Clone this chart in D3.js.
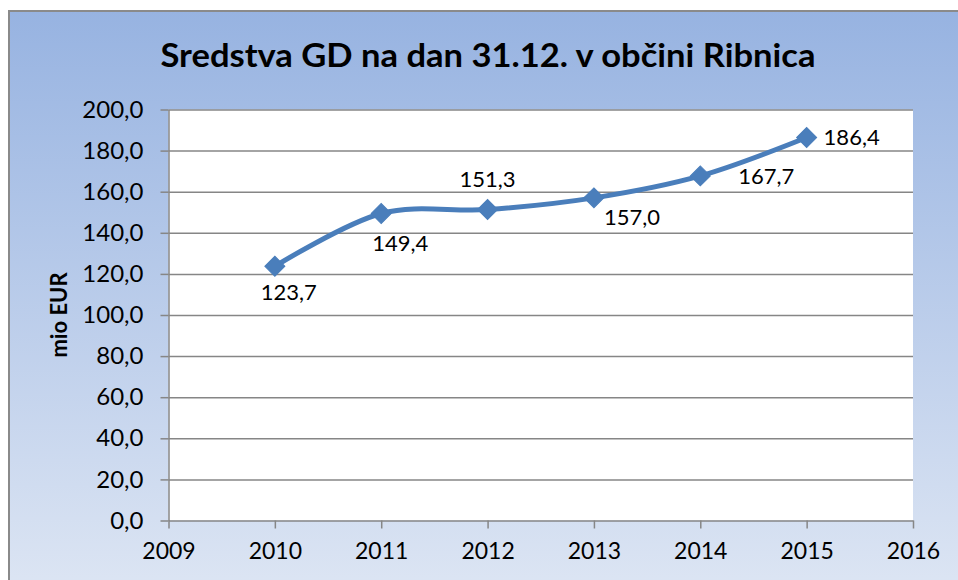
<!DOCTYPE html>
<html>
<head>
<meta charset="utf-8">
<script src="https://cdn.jsdelivr.net/npm/d3@7"></script>
<style>
  body { margin: 0; background: #ffffff; }
  svg text { font-family: Lato, "Open Sans", sans-serif; fill: #000; }
</style>
</head>
<body>
<div id="chart"></div>
<script>
// podatki
const years = [2010, 2011, 2012, 2013, 2014, 2015];
const values = [123.7, 149.4, 151.3, 157.0, 167.7, 186.4];
const xTicks = [2009, 2010, 2011, 2012, 2013, 2014, 2015, 2016];
const yTicks = [0, 20, 40, 60, 80, 100, 120, 140, 160, 180, 200];
const title = 'Sredstva GD na dan 31.12. v občini Ribnica';
const yTitle = 'mio EUR';

// where each data label sits relative to its marker (as in Excel)
const labelDx = [14, 19, 0, 38, 66, 45];
const labelDy = [26, 30, -30, 19, 0, 0];

const W = 958, H = 580;
const plot = { left: 168.5, right: 913, top: 109.5, bottom: 520.5 };

const svg = d3.select('#chart').append('svg')
    .attr('width', W)
    .attr('height', H);

const defs = svg.append('defs');
const grad = defs.append('linearGradient')
    .attr('id', 'bg')
    .attr('x1', 0).attr('y1', 0).attr('x2', 0).attr('y2', 1);
grad.append('stop').attr('offset', '0%').attr('stop-color', '#97b3e1');
grad.append('stop').attr('offset', '100%').attr('stop-color', '#dfe7f4');

// chart frame
svg.append('rect')
    .attr('x', 9).attr('y', 11)
    .attr('width', 980).attr('height', 600)
    .attr('fill', 'url(#bg)')
    .attr('stroke', '#8a8a8a')
    .attr('stroke-width', 2);

// plot area
svg.append('rect')
    .attr('x', plot.left).attr('y', plot.top)
    .attr('width', plot.right - plot.left)
    .attr('height', plot.bottom - plot.top)
    .attr('fill', '#ffffff');

const x = d3.scaleLinear().domain([2009, 2016]).range([plot.left, plot.right]);
const y = d3.scaleLinear().domain([0, 200]).range([plot.bottom, plot.top]);

// gridlines
svg.append('g')
    .attr('transform', `translate(${plot.left},0)`)
    .call(d3.axisLeft(y).tickValues(yTicks.slice(1)).tickSize(-(plot.right - plot.left)).tickFormat(''))
    .call(g => g.select('.domain').remove())
    .call(g => g.selectAll('line').attr('stroke', '#868686').attr('stroke-width', 1.5));

const fmt = d => d3.format('.1f')(d).replace('.', ',');

// y axis
svg.append('g')
    .attr('transform', `translate(${plot.left},0)`)
    .call(d3.axisLeft(y).tickValues(yTicks).tickSize(8).tickSizeOuter(0).tickFormat(fmt).tickPadding(17))
    .call(g => g.select('.domain').attr('stroke', '#868686').attr('stroke-width', 1.5))
    .call(g => g.selectAll('line').attr('stroke', '#868686').attr('stroke-width', 1.5))
    .call(g => g.selectAll('text').attr('font-size', 24).attr('font-family', 'Lato, sans-serif').attr('fill', '#000'));

// x axis
svg.append('g')
    .attr('transform', `translate(0,${plot.bottom})`)
    .call(d3.axisBottom(x).tickValues(xTicks).tickSize(8).tickSizeOuter(0).tickFormat(d3.format('d')).tickPadding(14))
    .call(g => g.select('.domain').attr('stroke', '#868686').attr('stroke-width', 1.5))
    .call(g => g.selectAll('line').attr('stroke', '#868686').attr('stroke-width', 1.5))
    .call(g => g.selectAll('text').attr('font-size', 23).attr('font-family', 'Lato, sans-serif').attr('fill', '#000'));

// title
svg.append('text')
    .attr('x', 488)
    .attr('y', 67)
    .attr('text-anchor', 'middle')
    .attr('font-size', 33)
    .attr('font-weight', 'bold')
    .attr('textLength', 655)
    .attr('lengthAdjust', 'spacingAndGlyphs')
    .text(title);

// y axis title
svg.append('text')
    .attr('transform', 'translate(67,315) rotate(-90)')
    .attr('text-anchor', 'middle')
    .attr('font-size', 22)
    .attr('font-weight', 'bold')
    .text(yTitle);

const data = years.map((yr, i) => ({ year: yr, value: values[i], dx: labelDx[i], dy: labelDy[i] }));

// smoothed line
const line = d3.line()
    .x(d => x(d.year))
    .y(d => y(d.value))
    .curve(d3.curveCatmullRom.alpha(0));

svg.append('path')
    .datum(data)
    .attr('d', line)
    .attr('fill', 'none')
    .attr('stroke', '#4a7ebb')
    .attr('stroke-width', 5)
    .attr('stroke-linejoin', 'round');

// diamond markers
const diamond = d3.symbol().type(d3.symbolSquare).size(200);
svg.append('g').selectAll('.marker')
    .data(data)
    .enter()
    .append('path')
    .attr('class', 'marker')
    .attr('d', diamond)
    .attr('transform', d => `translate(${x(d.year)},${y(d.value)}) rotate(45)`)
    .attr('fill', '#4a7ebb')
    .attr('stroke', '#4a7ebb')
    .attr('stroke-width', 1);

// data labels
svg.append('g').selectAll('.lbl')
    .data(data)
    .enter()
    .append('text')
    .attr('class', 'lbl')
    .attr('x', d => x(d.year) + d.dx)
    .attr('y', d => y(d.value) + d.dy)
    .attr('dy', '0.36em')
    .attr('text-anchor', 'middle')
    .attr('font-size', 22)
    .text(d => fmt(d.value));
</script>
</body>
</html>
